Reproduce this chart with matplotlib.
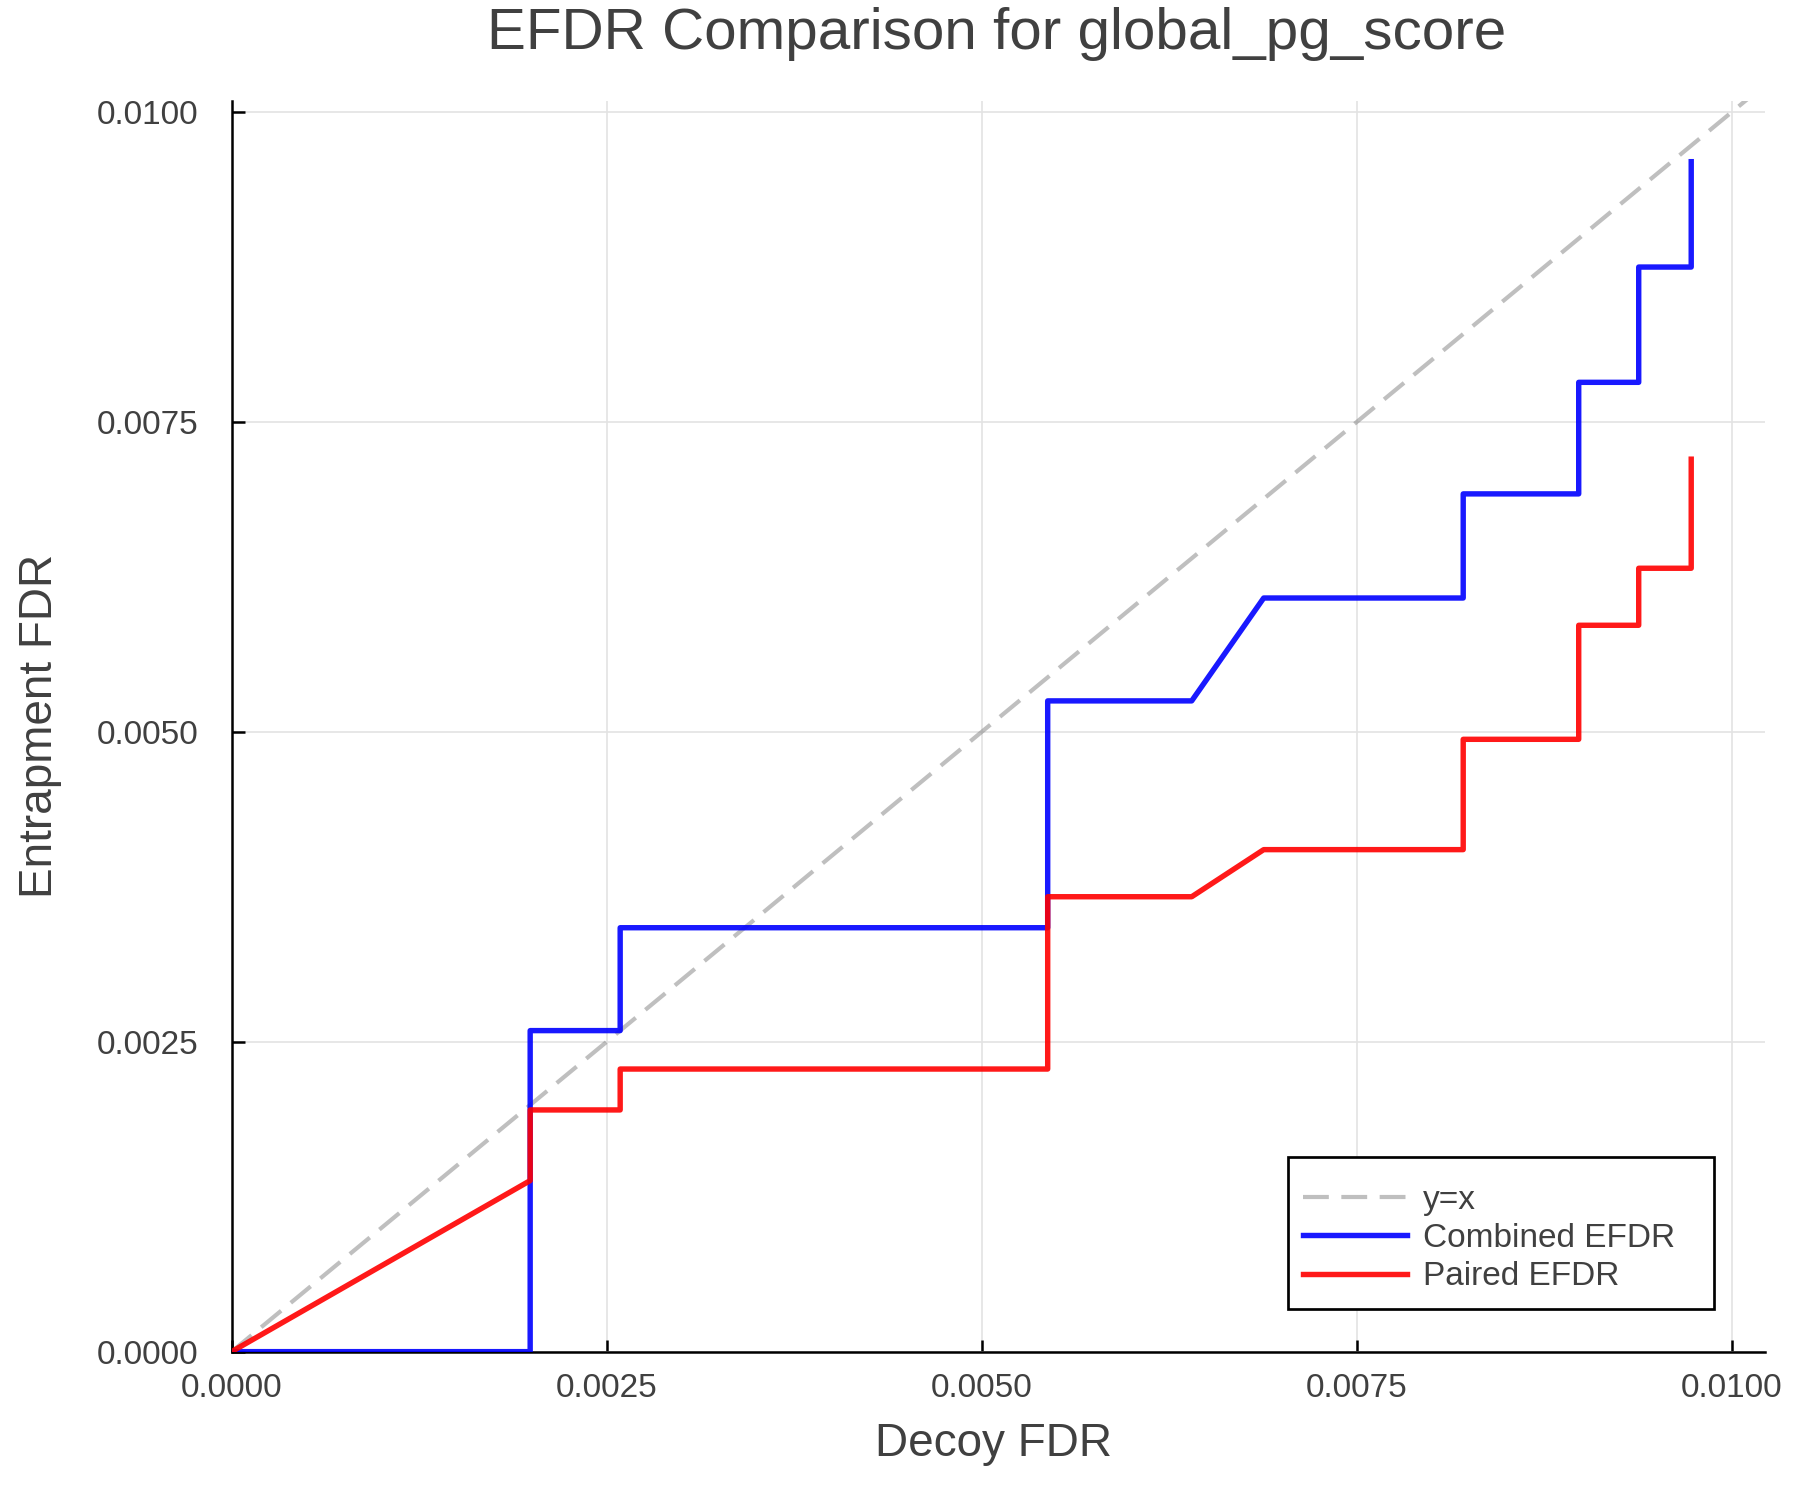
import matplotlib
matplotlib.use("Agg")
import matplotlib.pyplot as plt
from matplotlib.patches import Rectangle

# ---- data ----
decoy_fdr = [0.0, 0.00199, 0.00199, 0.00259, 0.00259, 0.00544, 0.00544, 0.00640,
             0.00688, 0.00821, 0.00821, 0.00898, 0.00898, 0.00938, 0.00938,
             0.00973, 0.00973]
combined_efdr = [0.0, 0.0, 0.00259, 0.00259, 0.00342, 0.00342, 0.00525, 0.00525,
                 0.00608, 0.00608, 0.00692, 0.00692, 0.00782, 0.00782, 0.00875,
                 0.00875, 0.00960]
paired_efdr = [0.0, 0.00138, 0.00195, 0.00195, 0.00228, 0.00228, 0.00367, 0.00367,
               0.00405, 0.00405, 0.00494, 0.00494, 0.00586, 0.00586, 0.00632,
               0.00632, 0.00720]
ref_line = [0.0, 0.0103]
xticks = [0.0, 0.0025, 0.005, 0.0075, 0.01]
yticks = [0.0, 0.0025, 0.005, 0.0075, 0.01]
tick_labels = ["0.0000", "0.0025", "0.0050", "0.0075", "0.0100"]
xlim = (0.0, 0.01022)
ylim = (0.0, 0.01009)

TXT = "#404040"
plt.rcParams["font.family"] = ["Liberation Sans", "DejaVu Sans"]

fig = plt.figure(figsize=(6, 5), dpi=300)
ax = fig.add_axes([0.1287, 0.0989, 0.8517, 0.8338])

ax.plot(ref_line, ref_line, color="gray", alpha=0.5, lw=1.0,
        dashes=(6.2, 3.0), label="y=x", zorder=2)
ax.plot(decoy_fdr, combined_efdr, color="blue", alpha=0.9, lw=1.3,
        label="Combined EFDR", zorder=3)
ax.plot(decoy_fdr, paired_efdr, color="red", alpha=0.9, lw=1.3,
        label="Paired EFDR", zorder=4)

ax.set_xlim(*xlim)
ax.set_ylim(*ylim)
ax.set_xticks(xticks)
ax.set_xticklabels(tick_labels)
ax.set_yticks(yticks)
ax.set_yticklabels(tick_labels)

for s in ["top", "right"]:
    ax.spines[s].set_visible(False)
for s in ["left", "bottom"]:
    ax.spines[s].set_linewidth(0.6)
    ax.spines[s].set_color("black")

ax.grid(True, color="#e3e3e3", lw=0.4, zorder=0)
ax.set_axisbelow(True)
ax.tick_params(axis="both", direction="in", length=3.0, width=0.6,
               color="black", labelsize=8, labelcolor=TXT)
ax.tick_params(axis="y", pad=8.0)
ax.tick_params(axis="x", pad=5.2)

ax.set_xlabel("Decoy FDR", fontsize=11, color=TXT)
ax.set_ylabel("Entrapment FDR", fontsize=11, color=TXT)
ax.xaxis.label.set_verticalalignment("center")
ax.yaxis.label.set_verticalalignment("center")
ax.xaxis.set_label_coords(0.497, -0.0738)
ax.yaxis.set_label_coords(-0.125, 0.5)

fig.text(0.5539, 0.9773, "EFDR Comparison for global_pg_score", fontsize=14,
         color=TXT, ha="center", va="center")

# legend frame
ax.add_patch(Rectangle((0.689, 0.0341), 0.278, 0.1216, transform=ax.transAxes,
                       facecolor="white", edgecolor="black", lw=0.65, zorder=10))
leg = ax.legend(loc="center left", bbox_to_anchor=(0.699, 0.0905),
                frameon=False, fontsize=8, handlelength=3.1, handletextpad=0.5,
                labelspacing=0.22, borderpad=0.0, borderaxespad=0.0)
leg.set_zorder(11)
for t in leg.get_texts():
    t.set_color(TXT)

fig.savefig("out.png", dpi=300, facecolor="white")
